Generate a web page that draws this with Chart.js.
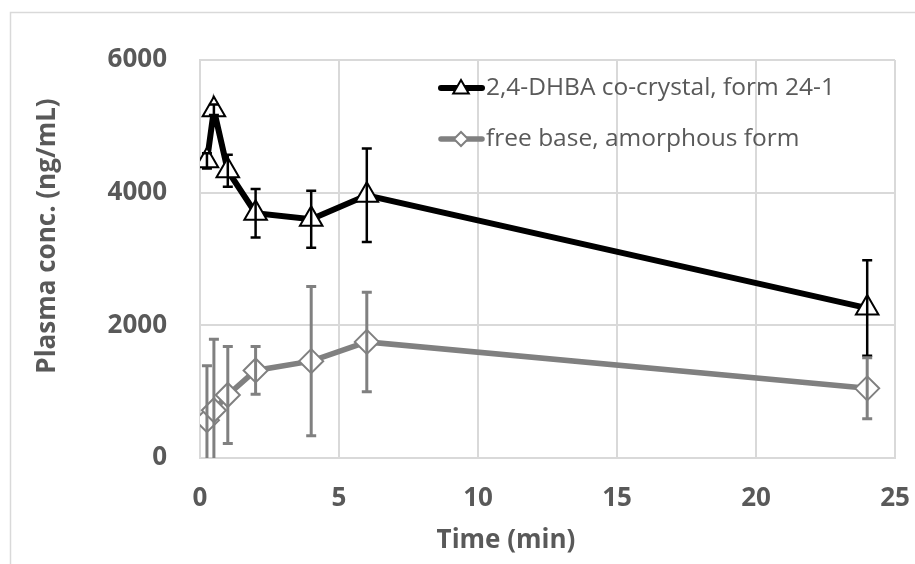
<!DOCTYPE html>
<html>
<head>
<meta charset="utf-8">
<script src="https://cdn.jsdelivr.net/npm/chart.js@4.4.1/dist/chart.umd.min.js"></script>
<style>
  html, body { margin: 0; padding: 0; background: #fff; }
</style>
</head>
<body>
<canvas id="pkChart" width="915" height="564"></canvas>
<script>
// sampling times (min) and plasma concentrations (ng/mL), mean and SD
const timePoints = [0.25, 0.5, 1, 2, 4, 6, 24];
const coCrystalMean = [4480, 5250, 4330, 3690, 3600, 3960, 2260];
const coCrystalSd = [115, 80, 240, 365, 430, 705, 720];
const freeBaseMean = [570, 720, 950, 1320, 1460, 1750, 1050];
const freeBaseSd = [820, 1070, 730, 360, 1125, 750, 460];
const seriesNames = ["2,4-DHBA co-crystal, form 24-1", "free base, amorphous form"];
const xTitle = "Time (min)";
const yTitle = "Plasma conc. (ng/mL)";

const textGray = "#595959";
const gridGray = "#d9d9d9";

function points(xs, ys) {
  return xs.map((x, i) => ({ x: x, y: ys[i] }));
}

// error bars drawn on top of the markers, clipped to the plot area
const errorBars = {
  id: "errorBars",
  afterDatasetsDraw(chart) {
    const { ctx, chartArea, scales } = chart;
    ctx.save();
    ctx.beginPath();
    ctx.rect(chartArea.left, chartArea.top, chartArea.width, chartArea.height);
    ctx.clip();
    chart.data.datasets.forEach(ds => {
      ctx.strokeStyle = ds.borderColor;
      ctx.lineWidth = ds.errLineWidth;
      ds.data.forEach((p, i) => {
        const px = scales.x.getPixelForValue(p.x);
        const top = scales.y.getPixelForValue(p.y + ds.sd[i]);
        const bot = scales.y.getPixelForValue(p.y - ds.sd[i]);
        ctx.beginPath();
        ctx.moveTo(px, top); ctx.lineTo(px, bot);
        ctx.moveTo(px - 5, top); ctx.lineTo(px + 5, top);
        ctx.moveTo(px - 5, bot); ctx.lineTo(px + 5, bot);
        ctx.stroke();
      });
    });
    ctx.restore();
  }
};

// Excel-like legend inside the plot, plus the axis titles and outer frame
const decorations = {
  id: "decorations",
  beforeDraw(chart) {
    const ctx = chart.ctx;
    ctx.save();
    ctx.strokeStyle = gridGray;
    ctx.lineWidth = 1.5;
    ctx.beginPath();
    ctx.moveTo(10.5, 600);
    ctx.lineTo(10.5, 12.5);
    ctx.lineTo(930, 12.5);
    ctx.stroke();
    ctx.restore();
  },
  afterDraw(chart) {
    const ctx = chart.ctx;
    ctx.save();
    ctx.fillStyle = textGray;
    ctx.font = "bold 26px 'Open Sans'";
    ctx.textAlign = "center";
    ctx.textBaseline = "middle";
    ctx.fillText(xTitle, 506, 541);
    ctx.translate(48, 236);
    ctx.rotate(-Math.PI / 2);
    ctx.fillText(yTitle, 0, 0);
    ctx.restore();

    const rows = [88, 139];
    chart.data.datasets.forEach((ds, i) => {
      const y = rows[i];
      ctx.save();
      ctx.strokeStyle = ds.borderColor;
      ctx.lineWidth = ds.borderWidth;
      ctx.lineCap = "round";
      ctx.beginPath();
      ctx.moveTo(441, y);
      ctx.lineTo(482, y);
      ctx.stroke();
      ctx.fillStyle = "#ffffff";
      ctx.lineWidth = 2;
      Chart.helpers.drawPoint(ctx, {
        pointStyle: ds.pointStyle,
        radius: ds.pointStyle === "triangle" ? 9 : 7,
        borderWidth: 2,
        rotation: 0
      }, 461, y + (ds.pointStyle === "triangle" ? 1 : 0));
      ctx.fillStyle = textGray;
      ctx.font = "24.5px 'Open Sans'";
      ctx.textAlign = "left";
      ctx.textBaseline = "middle";
      ctx.fillText(ds.label, 486, y);
      ctx.restore();
    });
  }
};

new Chart(document.getElementById("pkChart").getContext("2d"), {
  type: "line",
  data: {
    datasets: [
      {
        label: seriesNames[0],
        data: points(timePoints, coCrystalMean),
        sd: coCrystalSd,
        borderColor: "#000000",
        backgroundColor: "#ffffff",
        borderWidth: 6,
        pointStyle: "triangle",
        pointRadius: 13,
        pointBorderWidth: 2,
        pointBackgroundColor: "#ffffff",
        pointBorderColor: "#000000",
        errLineWidth: 2.5,
        tension: 0
      },
      {
        label: seriesNames[1],
        data: points(timePoints, freeBaseMean),
        sd: freeBaseSd,
        borderColor: "#808080",
        backgroundColor: "#ffffff",
        borderWidth: 5.5,
        pointStyle: "rectRot",
        pointRadius: 12,
        pointBorderWidth: 2,
        pointBackgroundColor: "#ffffff",
        pointBorderColor: "#808080",
        errLineWidth: 3,
        tension: 0
      }
    ]
  },
  options: {
    responsive: false,
    animation: false,
    layout: { padding: { left: 10, top: 60, right: 20, bottom: 0 } },
    plugins: {
      legend: { display: false },
      tooltip: { enabled: false }
    },
    scales: {
      x: {
        type: "linear",
        min: 0,
        max: 25,
        afterFit(scale) {
          scale.height = 106;
          scale.paddingLeft = 0;
          scale.paddingRight = 0;
        },
        grid: { color: gridGray, lineWidth: 2, drawTicks: false },
        border: { color: gridGray, width: 2 },
        ticks: {
          stepSize: 5,
          padding: 25,
          color: textGray,
          font: { family: "'Open Sans'", size: 26, weight: "bold" }
        }
      },
      y: {
        min: 0,
        max: 6000,
        afterFit(scale) {
          scale.width = 190;
          scale.paddingTop = 0;
          scale.paddingBottom = 0;
        },
        grid: { color: gridGray, lineWidth: 2, drawTicks: false },
        border: { color: gridGray, width: 2 },
        ticks: {
          stepSize: 2000,
          padding: 33,
          color: textGray,
          font: { family: "'Open Sans'", size: 26, weight: "bold" },
          callback: value => String(value)
        }
      }
    }
  },
  plugins: [errorBars, decorations]
});
</script>
</body>
</html>
